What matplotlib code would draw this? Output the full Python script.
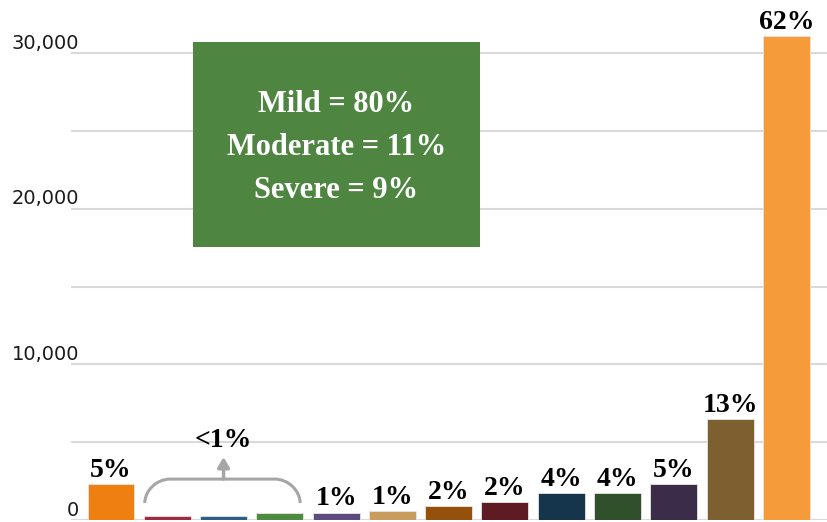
import numpy as np
import matplotlib
matplotlib.use('Agg')
import matplotlib.pyplot as plt
from matplotlib.patches import Rectangle, PathPatch
from matplotlib.path import Path
from matplotlib.transforms import ScaledTranslation

# bar values (counts)
values = [2310, 260, 230, 450, 470, 580, 900, 1160, 1730, 1730, 2310, 6490, 31090]
pct_labels = ['5%', '', '', '', '1%', '1%', '2%', '2%', '4%', '4%', '5%', '13%', '62%']
bar_colors = ['#EF7F10', '#A3293D', '#2B5F86', '#4E8B3F', '#5E4A7F', '#C99B5C',
              '#95500B', '#5F1B23', '#14354B', '#30502B', '#3B2C49', '#7D5F30', '#F59B3A']
group_label = '<1%'
group_idx = [1, 2, 3]
severity_lines = ['Mild = 80%', 'Moderate = 11%', 'Severe = 9%']
yticks = [0, 10000, 20000, 30000]
ygrid = [0, 5000, 10000, 15000, 20000, 25000, 30000]

serif = 'Liberation Serif'

fig = plt.figure(figsize=(8.27, 5.22), dpi=100)
ax = fig.add_axes([0.0859, 0.0038, 0.914, 0.954])

x = np.arange(len(values))
ax.bar(x, values, width=0.835, color=bar_colors, edgecolor='#e6e6e6', linewidth=0.6, zorder=3)

for xi, v, lab in zip(x, values, pct_labels):
    if lab:
        ax.annotate(lab, (xi, v), xytext=(0, 1), textcoords='offset points',
                    ha='center', va='bottom', fontsize=20, fontweight='bold',
                    family=serif, color='black', zorder=4)

# bracket over the tiny bars
x0 = group_idx[0] - 0.4
x1 = group_idx[-1] + 0.36
ylo, yhi = 1090, 2630
rx, ry = 0.45, 1400
verts = [(x0, ylo), (x0, ylo + ry * 0.55), (x0 + rx * 0.45, yhi), (x0 + rx, yhi),
         (x1 - rx, yhi), (x1 - rx * 0.45, yhi), (x1, ylo + ry * 0.55), (x1, ylo)]
codes = [Path.MOVETO, Path.CURVE4, Path.CURVE4, Path.CURVE4,
         Path.LINETO, Path.CURVE4, Path.CURVE4, Path.CURVE4]
ax.add_patch(PathPatch(Path(verts, codes), facecolor='none', edgecolor='#A6A6A6',
                       linewidth=2.2, zorder=4))
xm = np.mean(group_idx)
ax.annotate('', xy=(xm, 4050), xytext=(xm, yhi),
            arrowprops=dict(arrowstyle='-|>,head_length=0.6,head_width=0.35',
                            color='#A6A6A6', lw=2.5, shrinkA=0, shrinkB=0), zorder=4)
ax.text(xm, 5140, group_label, ha='center', va='center', fontsize=20,
        fontweight='bold', family=serif, zorder=4)

ax.set_xlim(-0.71, 12.72)
ax.set_ylim(0, 32000)
ax.set_xticks([])
ax.set_yticks(yticks)
ax.set_yticklabels([f'{t:,}' for t in yticks])
ax.set_yticks(ygrid, minor=True)
ax.grid(True, axis='y', which='both', color='#D9D9D9', linewidth=1.5, zorder=0)
ax.tick_params(axis='y', which='both', length=0, pad=-6, labelsize=14, labelcolor='#1a1a1a')
for lab in ax.get_yticklabels():
    lab.set_transform(lab.get_transform() + ScaledTranslation(0, 12 / 100, fig.dpi_scale_trans))
for s in ax.spines.values():
    s.set_visible(False)

# green summary box
fig.patches.append(Rectangle((0.2334, 0.527), 0.347, 0.3927, transform=fig.transFigure,
                             facecolor='#4E8641', edgecolor='none', zorder=5))
fig.text(0.2334 + 0.347 / 2, 0.527 + 0.3927 / 2 - 0.006, '\n'.join(severity_lines),
         ha='center', va='center', color='white', fontsize=22, fontweight='bold',
         family=serif, linespacing=1.62, zorder=6)

fig.savefig('out.png', dpi=100)
